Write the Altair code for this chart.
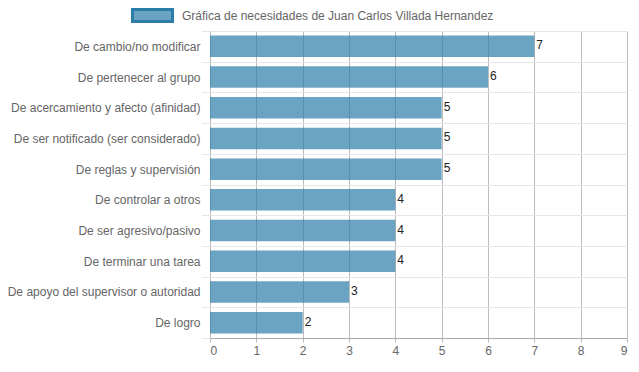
import altair as alt
import pandas as pd

categorias = [
    "De cambio/no modificar",
    "De pertenecer al grupo",
    "De acercamiento y afecto (afinidad)",
    "De ser notificado (ser considerado)",
    "De reglas y supervisión",
    "De controlar a otros",
    "De ser agresivo/pasivo",
    "De terminar una tarea",
    "De apoyo del supervisor o autoridad",
    "De logro",
]
valores = [7, 6, 5, 5, 5, 4, 4, 4, 3, 2]
serie = "Gráfica de necesidades de Juan Carlos Villada Hernandez"
x_ticks = [0, 1, 2, 3, 4, 5, 6, 7, 8, 9]

df = pd.DataFrame({"categoria": categorias, "valor": valores, "serie": serie})

FONT = "Liberation Sans"

y_enc = alt.Y(
    "categoria:N",
    sort=categorias,
    title=None,
    scale=alt.Scale(paddingInner=0, paddingOuter=0),
    axis=alt.Axis(
        tickBand="extent",
        grid=True,
        gridColor="#e6e6e6",
        gridWidth=1,
        ticks=True,
        tickSize=9,
        tickColor="#e6e6e6",
        domain=False,
        labelPadding=1,
        labelFont=FONT,
        labelFontSize=12,
        labelColor="#666666",
        labelLimit=300,
    ),
)
x_enc = alt.X(
    "valor:Q",
    title=None,
    scale=alt.Scale(domain=[0, 9], nice=False),
    axis=alt.Axis(
        values=x_ticks,
        grid=True,
        gridColor="#bbbbbb",
        domainColor="#aaaaaa",
        tickColor="#bbbbbb",
        tickSize=4,
        labelPadding=3,
        labelFont=FONT,
        labelFontSize=12,
        labelColor="#666666",
    ),
)

base = alt.Chart(df)

bars = base.mark_bar(height={"band": 0.7}).encode(
    x=x_enc,
    y=y_enc,
    color=alt.Color(
        "serie:N",
        scale=alt.Scale(range=["rgba(44,126,169,0.7)"]),
        legend=alt.Legend(
            title=None,
            orient="none",
            legendX=-79,
            legendY=-37,
            padding=0,
            symbolType="M-1,-0.3H1V0.3H-1Z",
            symbolSize=1600,
            symbolStrokeColor="#2c7ea9",
            symbolStrokeWidth=3,
            labelFont=FONT,
            labelFontSize=12,
            labelColor="#666666",
            labelOffset=8,
            labelLimit=500,
        ),
    ),
)

labels = base.mark_text(
    align="left", baseline="middle", dx=2, dy=-1, font=FONT, fontSize=12, color="#222222"
).encode(
    x=alt.X("valor:Q"),
    y=alt.Y("categoria:N", sort=categorias),
    text=alt.Text("valor:Q"),
)

chart = (
    alt.layer(bars, labels)
    .properties(
        width=417,
        height=307,
        autosize=alt.AutoSizeParams(type="none"),
        padding={"left": 202, "top": 23, "right": 4, "bottom": 20},
    )
    .configure_view(stroke=None)
)

chart.save("out.html", embed_options={"renderer": "svg", "actions": False})
